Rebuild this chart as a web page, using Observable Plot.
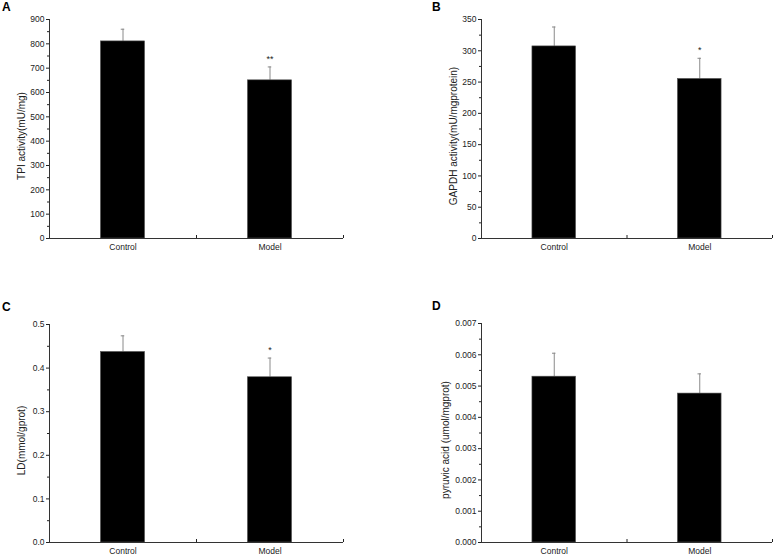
<!DOCTYPE html>
<html>
<head>
<meta charset="utf-8">
<script src="https://cdn.jsdelivr.net/npm/d3@7"></script>
<script src="https://cdn.jsdelivr.net/npm/@observablehq/plot@0.6"></script>
<style>
  body { margin: 0; background: #fff; }
  #wrap { position: relative; width: 777px; height: 557px; background: #fff; font-family: "Liberation Sans", Arial, sans-serif; }
  .panel { position: absolute; }
  .letter { position: absolute; font-weight: bold; font-size: 12px; line-height: 12px; color: #000; }
</style>
</head>
<body>
<div id="wrap"></div>
<script>
// ---- data ----
const groups = ["Control", "Model"];
const groupPos = [1, 2];

const tpiMean = [810, 650];
const tpiErr = [50, 55];
const tpiSig = ["", "**"];
const tpiTicks = [0, 100, 200, 300, 400, 500, 600, 700, 800, 900];

const gapdhMean = [307, 255];
const gapdhErr = [31, 33];
const gapdhSig = ["", "*"];
const gapdhTicks = [0, 50, 100, 150, 200, 250, 300, 350];

const ldMean = [0.437, 0.379];
const ldErr = [0.037, 0.044];
const ldSig = ["", "*"];
const ldTicks = [0, 0.1, 0.2, 0.3, 0.4, 0.5];

const pyrMean = [0.0053, 0.00476];
const pyrErr = [0.00075, 0.00063];
const pyrSig = ["", ""];
const pyrTicks = [0, 0.001, 0.002, 0.003, 0.004, 0.005, 0.006, 0.007];

const panels = [
  {letter: "A", label: "TPI activity(mU/mg)", mean: tpiMean, err: tpiErr, sig: tpiSig, ticks: tpiTicks, fmt: d3.format("d"),
   left: 0, top: 0, w: 390, h: 270, mL: 49, mR: 47, mT: 19, mB: 32, lx: 2, ly: 1, ldx: -28},
  {letter: "B", label: "GAPDH activity(mU/mgprotein)", mean: gapdhMean, err: gapdhErr, sig: gapdhSig, ticks: gapdhTicks, fmt: d3.format("d"),
   left: 390, top: 0, w: 387, h: 270, mL: 91, mR: 5, mT: 19, mB: 32, lx: 432, ly: 1, ldx: -28},
  {letter: "C", label: "LD(mmol/gprot)", mean: ldMean, err: ldErr, sig: ldSig, ticks: ldTicks, fmt: d3.format(".1f"),
   left: 0, top: 280, w: 390, h: 277, mL: 49, mR: 47, mT: 44, mB: 15, lx: 2, ly: 301, ldx: -28},
  {letter: "D", label: "pyruvic acid (umol/mgprot)", mean: pyrMean, err: pyrErr, sig: pyrSig, ticks: pyrTicks, fmt: d3.format(".3f"),
   left: 390, top: 280, w: 387, h: 277, mL: 91, mR: 5, mT: 43, mB: 15, lx: 432, ly: 300, ldx: -36}
];

const wrap = document.getElementById("wrap");
const barHalf = 0.15;
const capHalf = 0.012;

for (const p of panels) {
  const data = groups.map((g, i) => ({group: g, pos: groupPos[i], mean: p.mean[i], err: p.err[i], sig: p.sig[i]}));
  const minors = p.ticks.slice(1).map((t, i) => (t + p.ticks[i]) / 2);
  const chart = Plot.plot({
    width: p.w,
    height: p.h,
    marginLeft: p.mL,
    marginRight: p.mR,
    marginTop: p.mT,
    marginBottom: p.mB,
    style: {fontFamily: "'Liberation Sans', Arial, sans-serif", fontSize: "8.5px", background: "transparent", color: "#222"},
    x: {domain: [0.5, 2.5]},
    y: {domain: [p.ticks[0], p.ticks[p.ticks.length - 1]]},
    marks: [
      Plot.ruleX(data, {x: "pos", y1: "mean", y2: d => d.mean + d.err, stroke: "#8a8a8a", strokeWidth: 1}),
      Plot.ruleY(data, {x1: d => d.pos - capHalf, x2: d => d.pos + capHalf, y: d => d.mean + d.err, stroke: "#8a8a8a", strokeWidth: 1}),
      Plot.rectY(data, {x1: d => d.pos - barHalf, x2: d => d.pos + barHalf, y1: 0, y2: "mean", fill: "#000", stroke: "#555", strokeWidth: 0.6}),
      Plot.text(data, {x: "pos", y: d => d.mean + d.err, text: "sig", dy: -8, fontSize: 9, fill: "#222"}),
      Plot.ruleY([p.ticks[0]], {stroke: "#333", strokeWidth: 1}),
      Plot.frame({anchor: "left", stroke: "#333", strokeWidth: 1}),
      Plot.axisY({ticks: p.ticks, tickSize: 3, tickPadding: 2, tickFormat: p.fmt, label: null}),
      Plot.axisY({ticks: minors, tickSize: 2, tickFormat: () => "", label: null}),
      Plot.axisX({ticks: groupPos, tickSize: 0, tickPadding: 5, tickFormat: d => groups[d - 1], label: null}),
      Plot.axisX({ticks: [1.5, 2.5], tickSize: -3, tickFormat: () => "", label: null}),
      Plot.text([p.label], {frameAnchor: "left", textAnchor: "middle", lineAnchor: "middle", rotate: -90, dx: p.ldx, dy: 7, fontSize: 10, fill: "#222"})
    ]
  });
  const div = document.createElement("div");
  div.className = "panel";
  div.style.left = p.left + "px";
  div.style.top = p.top + "px";
  div.appendChild(chart);
  wrap.appendChild(div);

  const lt = document.createElement("div");
  lt.className = "letter";
  lt.style.left = p.lx + "px";
  lt.style.top = p.ly + "px";
  lt.textContent = p.letter;
  wrap.appendChild(lt);
}
</script>
</body>
</html>
